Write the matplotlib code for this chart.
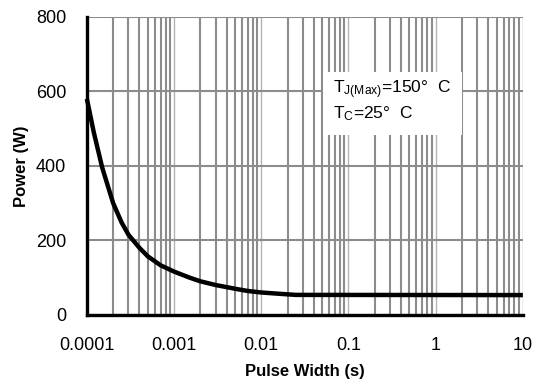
import numpy as np
import matplotlib
matplotlib.use('Agg')
import matplotlib.pyplot as plt
from matplotlib.ticker import LogLocator, FixedLocator, NullFormatter
from matplotlib.patches import Rectangle

plt.rcParams['font.family'] = ['Liberation Sans', 'DejaVu Sans']
plt.rcParams['mathtext.fontset'] = 'custom'
plt.rcParams['mathtext.rm'] = 'Liberation Sans'
plt.rcParams['mathtext.it'] = 'Liberation Sans:italic'

# pulse width (s) vs peak power (W)
pulse_width = [1e-4, 1.2e-4, 1.5e-4, 2e-4, 2.5e-4, 3e-4, 4e-4, 5e-4, 7e-4,
               1e-3, 1.5e-3, 2e-3, 3e-3, 5e-3, 7e-3, 1e-2, 1.5e-2, 2e-2, 2.5e-2, 10]
power = [580, 490, 395, 300, 248, 215, 180, 157, 133,
         116, 100, 90, 80, 70, 64, 60, 57, 55, 53.5, 53]

x_ticks = [1e-4, 1e-3, 1e-2, 1e-1, 1, 10]
x_labels = ['0.0001', '0.001', '0.01', '0.1', '1', '10']
y_ticks = [0, 200, 400, 600, 800]

fig = plt.figure(figsize=(5.33, 3.83), dpi=100)
ax = fig.add_axes([0.163, 0.178, 0.818, 0.778])

ax.set_xscale('log')
ax.set_xlim(1e-4, 10)
ax.set_ylim(0, 800)

ax.xaxis.set_major_locator(FixedLocator(x_ticks))
ax.set_xticklabels(x_labels)
ax.xaxis.set_minor_locator(LogLocator(base=10, subs=np.arange(2, 10)))
ax.xaxis.set_minor_formatter(NullFormatter())
ax.set_yticks(y_ticks)

ax.grid(True, which='minor', axis='x', color='#8c8c8c', linewidth=1.5)
ax.grid(True, which='major', axis='x', color='#b4b4b4', linewidth=1.0)
ax.grid(True, which='major', axis='y', color='#8c8c8c', linewidth=1.5)
ax.set_axisbelow(True)

ax.plot(pulse_width, power, color='black', linewidth=3.2, solid_capstyle='butt',
        solid_joinstyle='round', clip_on=False, zorder=5)

for s in ['top', 'right']:
    ax.spines[s].set_visible(False)
for s in ['left', 'bottom']:
    ax.spines[s].set_linewidth(2.4)
    ax.spines[s].set_color('black')
    ax.spines[s].set_zorder(6)

ax.tick_params(which='both', length=0, labelsize=13)
ax.tick_params(axis='x', pad=16)
ax.tick_params(axis='y', pad=15)

ax.set_xlabel('Pulse Width (s)', fontsize=12, fontweight='bold', labelpad=7)
ax.set_ylabel('Power (W)', fontsize=12, fontweight='bold', labelpad=5)

# white label box
ax.add_patch(Rectangle((0.541, 0.604), 0.319, 0.211, transform=ax.transAxes,
                       facecolor='white', edgecolor='none', zorder=3))
ax.text(0.564, 0.742, r'T$_{\mathrm{J(Max)}}$=150°  C', transform=ax.transAxes,
        fontsize=12.5, va='baseline', ha='left', zorder=4)
ax.text(0.564, 0.658, r'T$_{\mathrm{C}}$=25°  C', transform=ax.transAxes,
        fontsize=12.5, va='baseline', ha='left', zorder=4)

fig.savefig('out.png', dpi=100)
